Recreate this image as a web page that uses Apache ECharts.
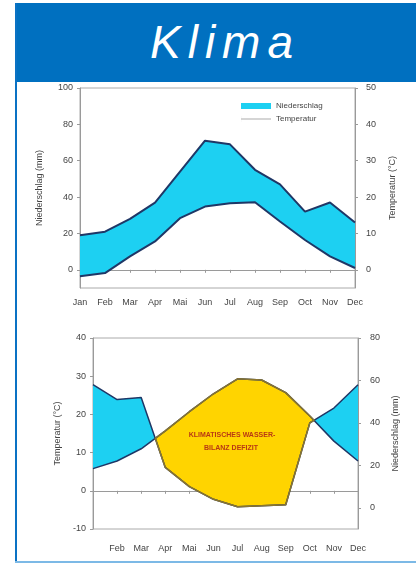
<!DOCTYPE html>
<html>
<head>
<meta charset="utf-8">
<script src="https://cdn.jsdelivr.net/npm/echarts@6/dist/echarts.min.js"></script>
<style>
  html, body { margin:0; padding:0; background:#fff; }
  #wrap { position:relative; width:416px; height:565px; overflow:hidden; }
  #banner { position:absolute; left:15px; top:3px; width:401px; height:79px; background:#0070c0; }
  #title { position:absolute; left:150px; top:19px; font-family:"Liberation Sans", Arial, sans-serif; font-style:italic; font-size:46px; line-height:46px; letter-spacing:7px; color:#fff; white-space:nowrap; }
  #lborder { position:absolute; left:15px; top:3px; width:2px; height:560px; background:#0a72c4; }
  #bborder { position:absolute; left:15px; top:561px; width:401px; height:2px; background:#7cb9e6; }
  #chart { position:absolute; left:0; top:0; width:416px; height:565px; }
</style>
</head>
<body>
<div id="wrap">
  <div id="chart"></div>
  <div id="banner"></div>
  <div id="title">Klima</div>
  <div id="lborder"></div>
  <div id="bborder"></div>
</div>
<script>
// ---- data ----
const months = ['Jan','Feb','Mar','Apr','Mai','Jun','Jul','Aug','Sep','Oct','Nov','Dec'];
// Chart 1
const precip1 = [19, 21, 28, 37, 54, 71, 69, 55, 47, 32, 37, 26];          // mm (left axis)
const temp1   = [-1.8, -0.9, 3.7, 7.8, 14.2, 17.4, 18.3, 18.6, 13.3, 8.2, 3.7, 0.5]; // °C (right axis)
// Chart 2
const temp2   = [5.8, 7.8, 11, 15.7, 20.7, 25.4, 29.3, 29, 25.7, 19.6, 13, 7.8]; // °C (left axis)
const precip2 = [58, 51, 52, 19, 10, 4, 0.5, 1, 1.4, 40, 47, 58];              // mm (right axis)
// tick labels
const ticks1L = [0, 20, 40, 60, 80, 100];
const ticks1R = [0, 10, 20, 30, 40, 50];
const ticks2L = [-10, 0, 10, 20, 30, 40];
const ticks2R = [0, 20, 40, 60, 80];
// axis ranges
const range1L = [-10, 100], range1R = [-5, 50];
const range2L = [-10, 40],  range2R = [-10, 80];

const CYAN = '#1dd0f2', YELLOW = '#ffd400', NAVY = '#1f3766', BROWN = '#8a7530';
const AXC = '#9a9a9a', TXT = '#444';
const FONT = '"Liberation Sans", Arial, sans-serif';

function mapRange(v, from, to) { return to[0] + (v - from[0]) * (to[1] - to[0]) / (from[1] - from[0]); }

// band between series a and b (same axis units); humid (a above b) = cyan, arid = yellow
function bandRender(aVals, bVals, outlineOnly) {
  return function (params, api) {
    const A = aVals.map((v, i) => api.coord([i, v]));
    const B = bVals.map((v, i) => api.coord([i, v]));
    const polys = [];
    let top = [A[0]], bot = [B[0]];
    let s = Math.sign(A[0][1] - B[0][1]) || Math.sign(A[1][1] - B[1][1]);
    for (let i = 0; i < A.length - 1; i++) {
      const d0 = A[i][1] - B[i][1], d1 = A[i + 1][1] - B[i + 1][1];
      if (d0 * d1 < 0) {
        const t = d0 / (d0 - d1);
        const c = [A[i][0] + t * (A[i + 1][0] - A[i][0]), A[i][1] + t * (A[i + 1][1] - A[i][1])];
        top.push(c); bot.push(c);
        polys.push({ s: s, pts: top.concat(bot.slice().reverse()) });
        top = [c]; bot = [c]; s = Math.sign(d1);
      }
      top.push(A[i + 1]); bot.push(B[i + 1]);
    }
    polys.push({ s: s, pts: top.concat(bot.slice().reverse()) });
    const children = [];
    polys.forEach(p => {
      const humid = p.s < 0;
      if (outlineOnly) {
        if (!humid) children.push({ type: 'polygon', shape: { points: p.pts }, style: { fill: 'none', stroke: BROWN, lineWidth: 1.5, lineJoin: 'round' } });
      } else {
        children.push({ type: 'polygon', shape: { points: p.pts }, style: { fill: humid ? CYAN : YELLOW, stroke: null } });
      }
    });
    return { type: 'group', children: children };
  };
}

function xAxisCfg(gridIndex, margin, hideFirst) {
  return {
    type: 'category', gridIndex: gridIndex, data: months, boundaryGap: false,
    axisLine: { lineStyle: { color: AXC, width: 1 } },
    axisTick: { show: true, length: 3, lineStyle: { color: AXC } },
    axisLabel: { interval: 0, fontSize: 9, color: TXT, fontFamily: FONT, margin: margin,
      formatter: (v, i) => (hideFirst && i === 0) ? '' : v },
    splitLine: { show: false }
  };
}
function yAxisCfg(gridIndex, pos, range, ticks, name, nameGap, margin) {
  return {
    type: 'value', gridIndex: gridIndex, position: pos, min: range[0], max: range[1],
    name: name, nameLocation: 'middle', nameGap: nameGap, nameRotate: 90,
    nameTextStyle: { fontSize: 9, color: TXT, fontFamily: FONT },
    axisLine: { show: true, lineStyle: { color: AXC, width: 1 } },
    axisTick: { show: true, length: 3, customValues: ticks, lineStyle: { color: AXC } },
    axisLabel: { fontSize: 9, color: TXT, fontFamily: FONT, margin: margin, customValues: ticks },
    splitLine: { show: false }
  };
}

const temp1InLeft = temp1.map(v => mapRange(v, range1R, range1L));
const precip2InLeft = precip2.map(v => mapRange(v, range2R, range2L));

const option = {
  animation: false,
  grid: [
    { left: 80, top: 88, width: 275, height: 200, show: true, borderColor: '#aaa', borderWidth: 1, backgroundColor: 'transparent' },
    { left: 93, top: 338, width: 265, height: 191, show: true, borderColor: '#aaa', borderWidth: 1, backgroundColor: 'transparent' }
  ],
  legend: {
    left: 236, top: 97, orient: 'vertical', itemGap: 5, itemWidth: 30, itemHeight: 6,
    selectedMode: false, symbolKeepAspect: false,
    textStyle: { fontSize: 8, color: TXT, fontFamily: FONT },
    data: [
      { name: 'Niederschlag', icon: 'rect', itemStyle: { color: CYAN } },
      { name: 'Temperatur', icon: 'path://M0,0L0.1,0L0.1,6L0,6Z M0,2.3L30,2.3L30,3.7L0,3.7Z', itemStyle: { color: '#c8c8c8' } }
    ]
  },
  xAxis: [ xAxisCfg(0, 10, false), xAxisCfg(1, 15, true) ],
  yAxis: [
    yAxisCfg(0, 'left', range1L, ticks1L, 'Niederschlag (mm)', 36, 7),
    yAxisCfg(0, 'right', range1R, ticks1R, 'Temperatur (°C)', 33, 11),
    yAxisCfg(1, 'left', range2L, ticks2L, 'Temperatur (°C)', 30, 7),
    yAxisCfg(1, 'right', range2R, ticks2R, 'Niederschlag (mm)', 32, 12)
  ],
  series: [
    { name: 'Niederschlag', type: 'custom', xAxisIndex: 0, yAxisIndex: 0, z: 1, silent: true,
      itemStyle: { color: CYAN }, data: [[0, 0]], renderItem: bandRender(precip1, temp1InLeft, false) },
    { name: 'Niederschlag ', type: 'line', xAxisIndex: 0, yAxisIndex: 0, z: 2, data: precip1,
      showSymbol: false, lineStyle: { color: NAVY, width: 2 }, itemStyle: { color: NAVY } },
    { name: 'Temperatur', type: 'line', xAxisIndex: 0, yAxisIndex: 1, z: 2, data: temp1,
      showSymbol: false, lineStyle: { color: NAVY, width: 2 }, itemStyle: { color: NAVY } },

    { name: 'band2', type: 'custom', xAxisIndex: 1, yAxisIndex: 2, z: 1, silent: true,
      data: [[0, 0]], renderItem: bandRender(precip2InLeft, temp2, false) },
    { name: 'Temperatur 2', type: 'line', xAxisIndex: 1, yAxisIndex: 2, z: 2, data: temp2,
      showSymbol: false, lineStyle: { color: NAVY, width: 1.5 } },
    { name: 'Niederschlag 2', type: 'line', xAxisIndex: 1, yAxisIndex: 3, z: 2, data: precip2,
      showSymbol: false, lineStyle: { color: NAVY, width: 1.5 } },
    { name: 'arid outline', type: 'custom', xAxisIndex: 1, yAxisIndex: 2, z: 3, silent: true,
      data: [[0, 0]], renderItem: bandRender(precip2InLeft, temp2, true) }
  ],
  graphic: [
    { type: 'text', x: 232, y: 435, z: 10, style: { text: 'KLIMATISCHES WASSER-', fill: '#b83814', font: 'bold 7px ' + FONT, textAlign: 'center', textVerticalAlign: 'middle' } },
    { type: 'text', x: 231, y: 448, z: 10, style: { text: 'BILANZ DEFIZIT', fill: '#b83814', font: 'bold 7px ' + FONT, textAlign: 'center', textVerticalAlign: 'middle' } }
  ]
};

const chart = echarts.init(document.getElementById('chart'), null, { renderer: 'canvas' });
chart.setOption(option);
</script>
</body>
</html>
